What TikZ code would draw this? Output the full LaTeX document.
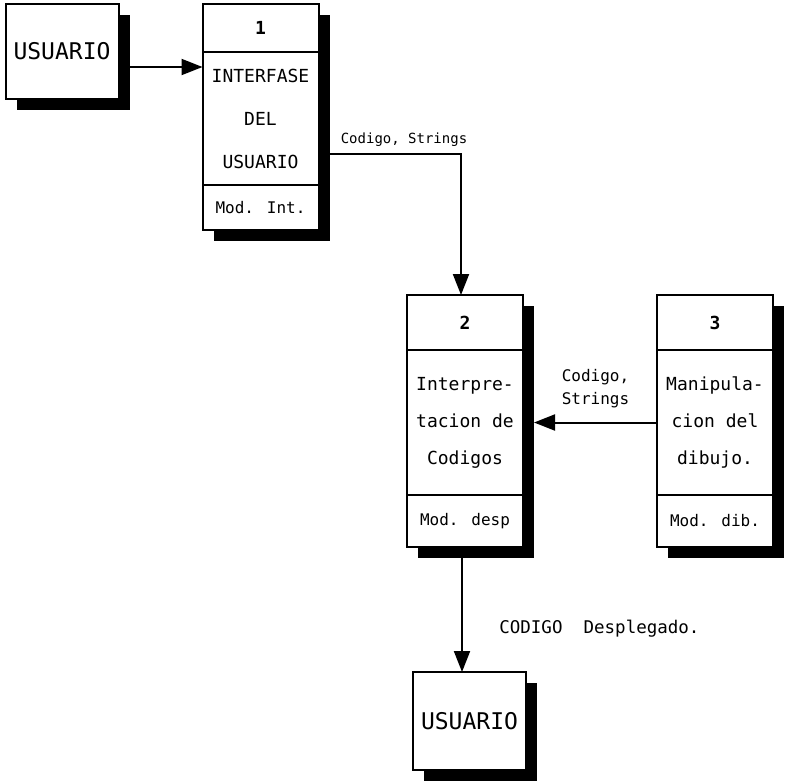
\documentclass[tikz,border=0pt]{standalone}
\usepackage{fontspec}
\setmainfont{DejaVu Sans Mono}
\usetikzlibrary{arrows.meta,positioning,shadows}
\tikzset{
  sombra/.style={drop shadow={shadow xshift=11pt,shadow yshift=-11pt,fill=black,opacity=1}},
  caja/.style  ={draw,fill=white,line width=2pt,inner sep=0pt,outer sep=0pt,
                 align=center,sombra},
  usr/.style   ={caja,minimum width=113pt,minimum height=95pt,
                 font=\fontsize{23}{27}\selectfont},
  modh/.style  ={caja,minimum width=116pt,font=\fontsize{18}{22}\selectfont\bfseries},
  modb/.style  ={caja,minimum width=116pt,font=\fontsize{18}{37}\selectfont},
  modf/.style  ={caja,minimum width=116pt,font=\fontsize{16}{18}\selectfont},
  ar/.style    ={line width=2pt,-{Triangle[length=21pt,width=16pt]}},
  etq/.style   ={font=\fontsize{16}{23}\selectfont,align=center},
}

\begin{document}
\begin{tikzpicture}[x=1pt,y=-1pt]
\useasboundingbox (0,0) rectangle (789,782);
% usuario de entrada
\node[usr] (U1) at (62,51) {USUARIO};
% modulo 1
\node[modh,minimum height=48pt] (M1h) at (260.5,28) {1};
\node[modb,minimum height=133pt,font=\fontsize{18}{43}\selectfont,below=0pt of M1h] (M1b) {INTERFASE\\DEL\\USUARIO};
\node[modf,minimum height=45pt,below=0pt of M1b] (M1f) {Mod. Int.};
% modulo 2
\node[modh,minimum height=55pt] (M2h) at (465,322.5) {2};
\node[modb,minimum height=145pt,below=0pt of M2h] (M2b) {Interpre-\\tacion de\\Codigos};
\node[modf,minimum height=52pt,below=0pt of M2b] (M2f) {Mod. desp};
% modulo 3
\node[modh,minimum height=55pt] (M3h) at (715,322.5) {3};
\node[modb,minimum height=145pt,below=0pt of M3h] (M3b) {Manipula-\\cion del\\dibujo.};
\node[modf,minimum height=52pt,below=0pt of M3b] (M3f) {Mod. dib.};
% usuario de salida
\node[usr,minimum height=98pt] (U2) at (469.5,721) {USUARIO};

\draw[ar] ([yshift=-16pt]U1.east) -- ([yshift=-16pt]U1.east -| M1b.west);
\draw[ar] ([yshift=-35pt]M1b.east) -| node[pos=0.3,above=3pt,font=\fontsize{14}{16}\selectfont] {Codigo, Strings} ([xshift=-4pt]M2h.north);
\draw[ar] (M3b.west) -- node[etq,above=10pt] {Codigo,\\Strings} ([xshift=11pt]M2b.east);
\draw[ar] ([xshift=-3pt]M2f.south) -- node[pos=0.65,anchor=west,xshift=33pt,font=\fontsize{17.5}{20}\selectfont] {CODIGO\ \ Desplegado.} ([xshift=-3pt]M2f.south |- U2.north);
\end{tikzpicture}
\end{document}
